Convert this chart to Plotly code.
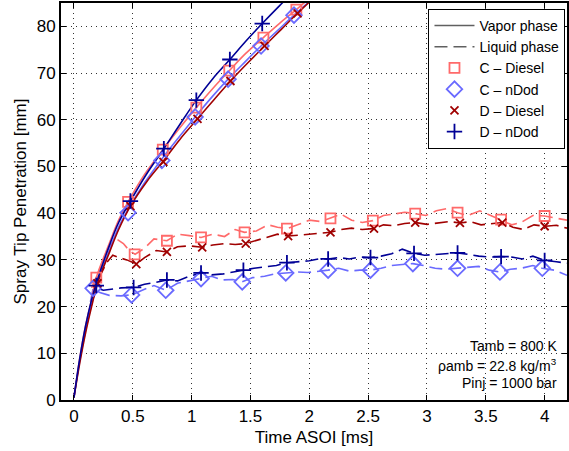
import plotly.graph_objects as go

# ---------------- data ----------------
# Vapor phase (solid lines)
vap_c_diesel_t = [0, 0.05, 0.1, 0.15, 0.19, 0.3, 0.38, 0.46, 0.6, 0.755, 0.9, 1.04, 1.18, 1.32, 1.46, 1.61, 1.75, 1.89, 2.0]
vap_c_diesel_v = [0.5, 9, 16, 21.5, 26.2, 33.5, 38.5, 42.4, 48.3, 53.6, 58.3, 62.6, 66.7, 70.5, 74.2, 77.6, 80.7, 83.6, 86]
vap_c_ndod_t = [0, 0.05, 0.1, 0.15, 0.19, 0.3, 0.38, 0.46, 0.6, 0.747, 0.89, 1.03, 1.17, 1.31, 1.45, 1.59, 1.73, 1.87, 2.0]
vap_c_ndod_v = [0.5, 8.5, 15, 20.5, 24.5, 32, 37, 40.8, 46.5, 51.6, 56.2, 60.6, 64.8, 68.7, 72.3, 75.8, 79.1, 82.4, 85.3]
vap_d_diesel_t = [0, 0.05, 0.1, 0.15, 0.2, 0.3, 0.38, 0.48, 0.62, 0.76, 0.9, 1.05, 1.19, 1.33, 1.47, 1.62, 1.76, 1.9, 2.0]
vap_d_diesel_v = [0.5, 8, 14.5, 20, 25, 31.5, 36.5, 41.5, 46.8, 51.2, 55.8, 60.2, 64.3, 68.3, 72, 75.8, 79.3, 82.8, 85.2]
vap_d_ndod_t = [0, 0.05, 0.1, 0.15, 0.19, 0.3, 0.38, 0.48, 0.62, 0.764, 0.9, 1.04, 1.18, 1.325, 1.46, 1.6, 1.75, 1.85]
vap_d_ndod_v = [0.5, 9, 16, 21.5, 25, 33, 38, 42.6, 48.5, 53.8, 59, 64.2, 68.8, 72.9, 76.8, 80.6, 84.5, 87]

# Vapor phase markers
vm_c_diesel_t = [0.19, 0.46, 0.755, 1.04, 1.32, 1.61, 1.89]
vm_c_diesel_v = [26.2, 42.4, 53.6, 62.6, 70.5, 77.6, 83.6]
vm_c_ndod_t = [0.46, 0.747, 1.03, 1.31, 1.59, 1.87]
vm_c_ndod_v = [40.1, 51.3, 60.6, 68.7, 75.8, 82.4]
vm_d_diesel_t = [0.2, 0.48, 0.76, 1.05, 1.33, 1.62, 1.9]
vm_d_diesel_v = [25.0, 41.5, 51.0, 60.2, 68.3, 75.8, 82.8]
vm_d_ndod_t = [0.19, 0.48, 0.764, 1.04, 1.325, 1.60]
vm_d_ndod_v = [24.5, 42.6, 53.8, 64.2, 72.9, 80.6]

# Liquid phase (dashed lines)
liq_c_diesel_t = [0.15, 0.19, 0.25, 0.3, 0.36, 0.42, 0.47, 0.52, 0.6, 0.68, 0.79, 0.88, 0.98, 1.08, 1.18, 1.28, 1.37, 1.45, 1.55, 1.65, 1.73, 1.81, 1.9, 2.0, 2.1, 2.18, 2.27, 2.36, 2.45, 2.54, 2.63, 2.72, 2.81, 2.9, 2.99, 3.08, 3.17, 3.26, 3.35, 3.45, 3.53, 3.63, 3.72, 3.8, 3.9, 4.0, 4.1, 4.19]
liq_c_diesel_v = [24, 26.2, 30, 33, 34.5, 33.5, 32, 31.2, 32.5, 34.5, 34.1, 35.5, 35.2, 34.8, 35.5, 35, 36.5, 35.9, 36.2, 37.5, 37, 36.7, 37.5, 38.5, 38.2, 38.9, 39.8, 38.5, 38, 38.4, 39.5, 39.8, 40.2, 39.9, 39.5, 40.5, 41, 40.1, 39.5, 40.5, 39.6, 38.6, 37.5, 38.0, 39.5, 39.4, 39, 38.5]
liq_d_diesel_t = [0.17, 0.21, 0.28, 0.33, 0.38, 0.45, 0.53, 0.6, 0.7, 0.79, 0.88, 0.98, 1.09, 1.18, 1.28, 1.37, 1.46, 1.55, 1.65, 1.73, 1.82, 1.92, 2.0, 2.1, 2.18, 2.27, 2.36, 2.45, 2.55, 2.63, 2.72, 2.81, 2.9, 3.0, 3.1, 3.19, 3.28, 3.37, 3.46, 3.55, 3.64, 3.73, 3.82, 3.91, 4.0, 4.1, 4.19]
liq_d_diesel_v = [22, 26, 29.5, 31, 30.5, 30, 29.1, 30.5, 32, 31.7, 32.8, 33, 32.7, 33.2, 33.5, 33.3, 33.5, 34.2, 35, 35.5, 35.1, 35.3, 35.5, 35.8, 35.9, 36.5, 36.8, 36.5, 36.7, 37.5, 37.3, 37.8, 38.0, 37.6, 38.0, 38.2, 37.9, 38.2, 37.5, 37.8, 38.0, 37.0, 36.5, 37.5, 37.2, 37.4, 36.8]
liq_d_ndod_t = [0.15, 0.19, 0.25, 0.32, 0.4, 0.507, 0.6, 0.7, 0.79, 0.88, 0.98, 1.08, 1.17, 1.27, 1.36, 1.44, 1.53, 1.63, 1.72, 1.81, 1.9, 2.0, 2.08, 2.16, 2.25, 2.34, 2.43, 2.52, 2.61, 2.7, 2.79, 2.89, 2.98, 3.07, 3.16, 3.26, 3.35, 3.44, 3.54, 3.63, 3.72, 3.81, 3.9, 4.0, 4.1, 4.19]
liq_d_ndod_v = [21, 24, 23.5, 23.8, 24, 24.1, 24.8, 25.2, 25.7, 25.5, 26.5, 27.2, 26.8, 27, 27.5, 27.8, 28.2, 28.5, 28.8, 29.4, 29.6, 29.8, 30.2, 30.2, 30.5, 30.2, 30.6, 30.5, 30.8, 31.3, 32.3, 31.4, 31.0, 31.2, 31.3, 31.5, 31.2, 30.8, 30.6, 30.7, 30.6, 30.2, 30.8, 29.9, 29.6, 29.3]
liq_c_ndod_t = [0.14, 0.163, 0.22, 0.3, 0.4, 0.49, 0.58, 0.68, 0.78, 0.88, 0.98, 1.08, 1.17, 1.26, 1.35, 1.43, 1.52, 1.62, 1.71, 1.8, 1.9, 1.99, 2.08, 2.16, 2.25, 2.34, 2.43, 2.52, 2.61, 2.7, 2.79, 2.88, 2.97, 3.07, 3.16, 3.26, 3.35, 3.44, 3.53, 3.62, 3.71, 3.8, 3.9, 3.98, 4.08, 4.19]
liq_c_ndod_v = [21, 23.9, 23, 22.4, 22.3, 22.5, 23.5, 24.5, 23.5, 25, 25.5, 26.0, 26.5, 25.7, 25.8, 25.3, 26.2, 26.5, 27.0, 27.2, 27.4, 27.3, 27.5, 27.8, 28.2, 27.6, 27.8, 27.8, 28.2, 28.8, 29.0, 29.2, 28.8, 28.2, 28.0, 28.2, 28.5, 28.6, 27.8, 27.4, 28.0, 28.2, 28.8, 28.2, 27.8, 26.7]

# Liquid phase markers
lm_c_diesel_t = [0.516, 0.79, 1.08, 1.45, 1.81, 2.18, 2.54, 2.90, 3.26, 3.63, 4.0]
lm_c_diesel_v = [31.2, 34.1, 34.8, 35.9, 36.7, 38.9, 38.4, 39.9, 40.1, 38.6, 39.4]
lm_c_ndod_t = [0.163, 0.49, 0.78, 1.08, 1.43, 1.80, 2.16, 2.52, 2.88, 3.26, 3.62, 3.98]
lm_c_ndod_v = [23.9, 22.5, 23.5, 26.0, 25.3, 27.2, 27.8, 27.8, 29.2, 28.2, 27.4, 28.2]
lm_d_diesel_t = [0.53, 0.79, 1.09, 1.46, 1.82, 2.18, 2.55, 2.90, 3.28, 3.64, 4.0]
lm_d_diesel_v = [29.1, 31.7, 32.7, 33.5, 35.1, 35.9, 36.7, 38.0, 37.9, 38.0, 37.2]
lm_d_ndod_t = [0.507, 0.79, 1.08, 1.44, 1.81, 2.16, 2.52, 2.89, 3.26, 3.63, 4.0]
lm_d_ndod_v = [24.1, 25.7, 27.2, 27.8, 29.4, 30.2, 30.5, 31.4, 31.5, 30.7, 29.9]

series_names = ["C \u2013 Diesel", "C \u2013 nDod", "D \u2013 Diesel", "D \u2013 nDod"]
x_ticks = [0, 0.5, 1, 1.5, 2, 2.5, 3, 3.5, 4]
y_ticks = [0, 10, 20, 30, 40, 50, 60, 70, 80]

# ---------------- styles ----------------
colors = ["#ff6a6a", "#6a6aff", "#a00000", "#000096"]
symbols = ["square-open", "diamond-open", "x-thin-open", "cross-thin-open"]
msizes = [10, 12, 8, 11]
dash_style = "13px,6px"

vap = [(vap_c_diesel_t, vap_c_diesel_v), (vap_c_ndod_t, vap_c_ndod_v),
       (vap_d_diesel_t, vap_d_diesel_v), (vap_d_ndod_t, vap_d_ndod_v)]
vm = [(vm_c_diesel_t, vm_c_diesel_v), (vm_c_ndod_t, vm_c_ndod_v),
      (vm_d_diesel_t, vm_d_diesel_v), (vm_d_ndod_t, vm_d_ndod_v)]
liq = [(liq_c_diesel_t, liq_c_diesel_v), (liq_c_ndod_t, liq_c_ndod_v),
       (liq_d_diesel_t, liq_d_diesel_v), (liq_d_ndod_t, liq_d_ndod_v)]
lm = [(lm_c_diesel_t, lm_c_diesel_v), (lm_c_ndod_t, lm_c_ndod_v),
      (lm_d_diesel_t, lm_d_diesel_v), (lm_d_ndod_t, lm_d_ndod_v)]

fig = go.Figure()

# legend-only entries for line styles
fig.add_trace(go.Scatter(x=[None], y=[None], mode="lines", name="Vapor phase",
                         line=dict(color="#606060", width=1.5)))
fig.add_trace(go.Scatter(x=[None], y=[None], mode="lines", name="Liquid phase",
                         line=dict(color="#606060", width=1.5, dash=dash_style)))

for i in range(4):
    fig.add_trace(go.Scatter(x=liq[i][0], y=liq[i][1], mode="lines", showlegend=False,
                             line=dict(color=colors[i], width=1.6, dash=dash_style)))
for i in range(4):
    fig.add_trace(go.Scatter(x=vap[i][0], y=vap[i][1], mode="lines", showlegend=False,
                             line=dict(color=colors[i], width=1.6, shape="spline")))
for i in range(4):
    mk = dict(symbol=symbols[i], size=msizes[i], color=colors[i],
              line=dict(color=colors[i], width=1.8))
    fig.add_trace(go.Scatter(x=lm[i][0], y=lm[i][1], mode="markers", showlegend=False, marker=mk))
    fig.add_trace(go.Scatter(x=vm[i][0], y=vm[i][1], mode="markers", name=series_names[i],
                             showlegend=True, marker=mk))

font_family = "Liberation Sans, Arial, Helvetica, sans-serif"
axis_common = dict(showline=True, linecolor="black", linewidth=2, mirror="ticks",
                   ticks="inside", ticklen=5, tickcolor="black", tickwidth=1,
                   showgrid=True, gridcolor="#333333", griddash="1px,4px", gridwidth=1,
                   zeroline=False, tickfont=dict(size=17, color="black"))

fig.update_layout(
    width=569, height=451,
    margin=dict(l=61, r=0, t=3, b=51),
    paper_bgcolor="white", plot_bgcolor="white",
    font=dict(family=font_family, color="black"),
    showlegend=True,
    legend=dict(x=0.997, y=0.985, xanchor="right", yanchor="top",
                bgcolor="white", bordercolor="black", borderwidth=1,
                font=dict(size=14), tracegroupgap=0, itemwidth=40),
    xaxis=dict(range=[-0.11, 4.19], tickvals=x_ticks, ticktext=[str(v) for v in x_ticks],
               title=dict(text="Time ASOI [ms]", font=dict(size=17), standoff=6),
               **axis_common),
    yaxis=dict(range=[0, 85], tickvals=y_ticks,
               title=dict(text="Spray Tip Penetration [mm]", font=dict(size=17), standoff=6),
               **axis_common),
)

annot_lines = ["Tamb = 800 K", "\u03c1amb = 22.8 kg/m<sup>3</sup>", "Pinj = 1000 bar"]
annot_y = [346, 365, 383]
for txt, ypx in zip(annot_lines, annot_y):
    fig.add_annotation(xref="paper", yref="paper", x=(561 - 61) / 508, y=(400 - ypx) / 397,
                       xanchor="right", yanchor="middle", text=txt, showarrow=False,
                       font=dict(size=14, color="black"))

fig.write_html("out.html")
